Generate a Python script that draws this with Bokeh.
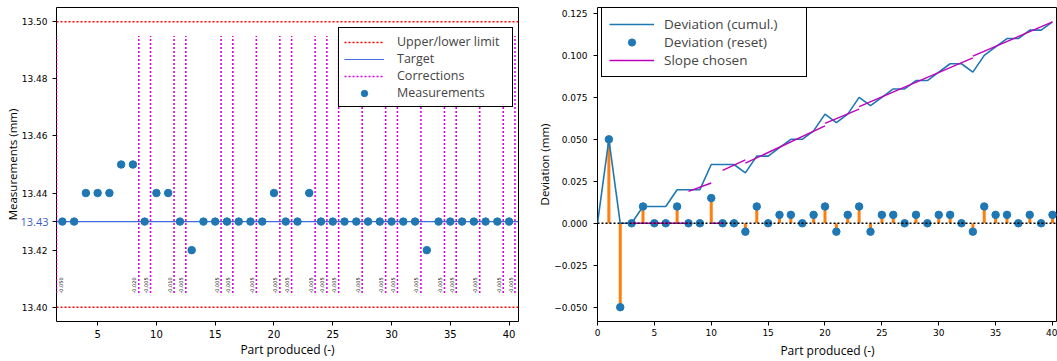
from bokeh.plotting import figure
from bokeh.layouts import row
from bokeh.models import (FixedTicker, Legend, LegendItem, LinearAxis, Range1d)
from bokeh.embed import file_html
from bokeh.resources import INLINE

# ---------------- data: left chart ----------------
parts = list(range(2, 41))
measurements = [13.43, 13.43, 13.44, 13.44, 13.44, 13.45, 13.45, 13.43, 13.44, 13.44,
                13.43, 13.42, 13.43, 13.43, 13.43, 13.43, 13.43, 13.43, 13.44, 13.43,
                13.43, 13.44, 13.43, 13.43, 13.43, 13.43, 13.43, 13.43, 13.43, 13.43,
                13.43, 13.42, 13.43, 13.43, 13.43, 13.43, 13.43, 13.43, 13.43]
limits = [13.40, 13.50]
target = [13.43]
target_label = "13.43"
corr_x = [1.5, 8.5, 9.5, 11.5, 12.5, 15.5, 16.5, 18.5, 20.5, 21.5, 23.5, 24.5, 25.5,
          27.5, 29.5, 30.5, 32.5, 34.5, 35.5, 37.5, 39.5, 40.5]
corr_labels = ["-0.050", "-0.020", "-0.005", "-0.010", "-0.005", "-0.005", "-0.005",
               "-0.005", "-0.005", "-0.005", "-0.005", "-0.005", "-0.005", "-0.005",
               "-0.005", "-0.005", "-0.005", "-0.005", "-0.005", "-0.005", "-0.005",
               "-0.005"]
left_xticks = [5, 10, 15, 20, 25, 30, 35, 40]
left_yticks = [13.40, 13.42, 13.44, 13.46, 13.48, 13.50]
left_ytick_labels = ["13.40", "13.42", "13.44", "13.46", "13.48", "13.50"]

# ---------------- data: right chart ----------------
cumul_x = list(range(0, 41))
cumul = [0.0, 0.05, 0.0, 0.0, 0.01, 0.01, 0.01, 0.02, 0.02, 0.02, 0.035, 0.035, 0.035,
         0.03, 0.04, 0.04, 0.045, 0.05, 0.05, 0.055, 0.065, 0.06, 0.065, 0.075, 0.07,
         0.075, 0.08, 0.08, 0.085, 0.085, 0.09, 0.095, 0.095, 0.09, 0.1, 0.105, 0.11,
         0.11, 0.115, 0.115, 0.12]
reset_x = list(range(1, 41))
reset = [0.05, -0.05, 0.0, 0.01, 0.0, 0.0, 0.01, 0.0, 0.0, 0.015, 0.0, 0.0, -0.005,
         0.01, 0.0, 0.005, 0.005, 0.0, 0.005, 0.01, -0.005, 0.005, 0.01, -0.005, 0.005,
         0.005, 0.0, 0.005, 0.0, 0.005, 0.005, 0.0, -0.005, 0.01, 0.005, 0.005, 0.0,
         0.005, 0.0, 0.005]
slope_x0 = [3, 8, 10, 11, 13, 20, 23, 33]
slope_x1 = [8, 10, 11, 13, 20, 23, 33, 40]
slope_y0 = [0.0, 0.019, 0.0, 0.0315, 0.0358, 0.0595, 0.0695, 0.0995]
slope_y1 = [0.0, 0.024, 0.0, 0.0378, 0.058, 0.068, 0.0985, 0.12]
right_xticks = [0, 5, 10, 15, 20, 25, 30, 35, 40]
right_yticks = [-0.05, -0.025, 0.0, 0.025, 0.05, 0.075, 0.1, 0.125]
right_ytick_labels = ["\u22120.050", "\u22120.025", "0.000", "0.025", "0.050", "0.075",
                      "0.100", "0.125"]

# ---------------- styles / geometry ----------------
BLUE = "#1f77b4"
ORANGE = "#ff7f0e"
MAGENTA = "#bf00bf"
CORR_COLOR = "#dd00dd"
TARGET_COLOR = "#4169e1"
TARGET_TEXT = "#3b5fbf"
TEXT_FONT = "Open Sans"
TICK_FONT = "DejaVu Sans"

FIG_H = 361
BORDER_TOP = 7
BORDER_BOTTOM = 39
FRAME_H = FIG_H - BORDER_TOP - BORDER_BOTTOM

XL = (1.5, 40.8)
YL = (13.395, 13.505)
CORR_Y0, CORR_Y1 = 13.405, 13.495
CORR_TEXT_SHIFT = 0.38          # correction text sits just left of its line
CORR_STANDOFF = -round(FRAME_H * (YL[1] - CORR_Y0) / (YL[1] - YL[0]))
XR = (0.0, 40.44)
YR = (-0.0585, 0.1285)


def style_axis(ax):
    ax.axis_line_color = None
    ax.major_tick_line_color = "black"
    ax.major_tick_out = 4
    ax.major_tick_in = 0
    ax.minor_tick_line_color = None
    ax.major_label_text_font = TICK_FONT
    ax.major_label_text_font_size = "9px"
    ax.major_label_text_color = "black"
    ax.axis_label_text_font = TEXT_FONT
    ax.axis_label_text_font_style = "normal"
    ax.axis_label_text_color = "black"
    ax.axis_label_standoff = 1
    ax.major_label_standoff = 4


def style_fig(p):
    p.xgrid.visible = False
    p.ygrid.visible = False
    p.outline_line_color = "black"
    p.outline_line_width = 1
    p.outline_line_alpha = 1
    for ax in (p.xaxis[0], p.yaxis[0]):
        style_axis(ax)
    p.xaxis[0].axis_label_text_font_size = "12px"
    p.yaxis[0].axis_label_text_font_size = "11.5px"


# ---------------- left figure ----------------
p1 = figure(width=530, height=FIG_H, x_range=Range1d(*XL), y_range=Range1d(*YL),
            output_backend="svg", toolbar_location=None,
            min_border_left=56, min_border_right=12, min_border_top=BORDER_TOP,
            min_border_bottom=BORDER_BOTTOM)
style_fig(p1)
p1.xaxis[0].ticker = FixedTicker(ticks=left_xticks)
p1.xaxis[0].major_label_text_font_size = "10px"
p1.xaxis[0].major_label_standoff = 4
p1.xaxis[0].axis_label_standoff = 0
p1.xaxis[0].axis_label = "Part produced (-)"

yax = p1.yaxis[0]
yax.ticker = FixedTicker(ticks=left_yticks + target)
yax.major_label_overrides = dict(zip(left_yticks + target,
                                     left_ytick_labels + [""]))
yax.major_label_standoff = 5

# outer left axis: carries the blue target label (pulled back next to the frame)
# and the axis title
tgt_axis = LinearAxis(ticker=FixedTicker(ticks=target),
                      major_label_overrides={target[0]: target_label})
style_axis(tgt_axis)
tgt_axis.major_tick_line_color = None
tgt_axis.major_tick_out = 0
tgt_axis.major_label_text_font = TEXT_FONT
tgt_axis.major_label_text_font_size = "11px"
tgt_axis.major_label_text_color = TARGET_TEXT
tgt_axis.major_label_standoff = -30
tgt_axis.axis_label = "Measurements (mm)"
tgt_axis.axis_label_text_font_size = "11.5px"
tgt_axis.axis_label_standoff = -3
p1.add_layout(tgt_axis, "left")

# correction values: rotated labels of a top axis pulled down to the line bottoms
# (text sits left of its line; when that would leave the frame it goes right)
corr_ticks = [x - CORR_TEXT_SHIFT if x - CORR_TEXT_SHIFT > XL[0] else x + CORR_TEXT_SHIFT
              for x in corr_x]
corr_axis = LinearAxis(ticker=FixedTicker(ticks=corr_ticks),
                       major_label_overrides=dict(zip(corr_ticks, corr_labels)),
                       major_label_orientation="vertical")
style_axis(corr_axis)
corr_axis.major_tick_line_color = None
corr_axis.major_tick_out = 0
corr_axis.major_label_standoff = CORR_STANDOFF
corr_axis.major_label_text_font_size = "5px"
p1.add_layout(corr_axis, "above")

n_lim = len(limits)
r_lim = p1.segment(x0=[XL[0]] * n_lim, x1=[XL[1]] * n_lim, y0=limits, y1=limits,
                   line_color="red", line_dash="2 2", line_width=1.6)
r_tgt = p1.segment(x0=[XL[0]] * len(target), x1=[XL[1]] * len(target), y0=target,
                   y1=target, line_color=TARGET_COLOR, line_width=1.2)
n_corr = len(corr_x)
r_corr = p1.segment(x0=corr_x, x1=corr_x, y0=[CORR_Y0] * n_corr, y1=[CORR_Y1] * n_corr,
                    line_color=CORR_COLOR, line_dash="2 2", line_width=1.6)
r_meas = p1.scatter(parts, measurements, size=7.5, fill_color=BLUE, line_color=BLUE)

leg1 = Legend(items=[LegendItem(label="Upper/lower limit", renderers=[r_lim]),
                     LegendItem(label="Target", renderers=[r_tgt]),
                     LegendItem(label="Corrections", renderers=[r_corr]),
                     LegendItem(label="Measurements", renderers=[r_meas])],
              location=(282, 214))
leg1.border_line_color = "black"
leg1.border_line_width = 1.2
leg1.border_line_alpha = 1
leg1.background_fill_color = "white"
leg1.background_fill_alpha = 1
leg1.label_text_font = TEXT_FONT
leg1.label_text_font_size = "12.5px"
leg1.padding = 5
leg1.spacing = 0
leg1.glyph_width = 40
leg1.glyph_height = 16
leg1.label_height = 16
leg1.label_standoff = 13
leg1.label_width = 110
leg1.margin = 0
p1.add_layout(leg1)

# ---------------- right figure ----------------
p2 = figure(width=527, height=FIG_H, x_range=Range1d(*XR), y_range=Range1d(*YR),
            output_backend="svg", toolbar_location=None,
            min_border_left=67, min_border_right=0, min_border_top=BORDER_TOP,
            min_border_bottom=BORDER_BOTTOM)
style_fig(p2)
p2.xaxis[0].ticker = FixedTicker(ticks=right_xticks)
p2.yaxis[0].ticker = FixedTicker(ticks=right_yticks)
p2.yaxis[0].major_label_overrides = dict(zip(right_yticks, right_ytick_labels))
p2.yaxis[0].major_label_standoff = 6
p2.yaxis[0].axis_label_standoff = -1
p2.xaxis[0].major_label_standoff = 3
p2.xaxis[0].axis_label_standoff = 3
p2.xaxis[0].axis_label = "Part produced (-)"
p2.yaxis[0].axis_label = "Deviation (mm)"

p2.segment(x0=reset_x, x1=reset_x, y0=[0.0] * len(reset), y1=reset,
           line_color=ORANGE, line_width=3)
r_cumul = p2.line(cumul_x, cumul, line_color=BLUE, line_width=1.6)
r_reset = p2.scatter(reset_x, reset, size=7.5, fill_color=BLUE, line_color=BLUE)
r_slope = p2.segment(x0=slope_x0, x1=slope_x1, y0=slope_y0, y1=slope_y1,
                     line_color=MAGENTA, line_width=1.4)
p2.segment(x0=[XR[0]], x1=[XR[1]], y0=[0.0], y1=[0.0], line_color="black",
           line_dash="2 2", line_width=1.6)

leg2 = Legend(items=[LegendItem(label="Deviation (cumul.)", renderers=[r_cumul]),
                     LegendItem(label="Deviation (reset)", renderers=[r_reset]),
                     LegendItem(label="Slope chosen", renderers=[r_slope])],
              location=(4, 244))
leg2.border_line_color = "black"
leg2.border_line_width = 1.2
leg2.border_line_alpha = 1
leg2.background_fill_color = "white"
leg2.background_fill_alpha = 1
leg2.label_text_font = TEXT_FONT
leg2.label_text_font_size = "13.5px"
leg2.padding = 7
leg2.spacing = 0
leg2.glyph_width = 45
leg2.glyph_height = 18
leg2.label_height = 18
leg2.label_standoff = 10
leg2.label_width = 135
leg2.margin = 0
p2.add_layout(leg2)

layout = row(p1, p2)
open("out.html", "w").write(file_html(layout, INLINE))
